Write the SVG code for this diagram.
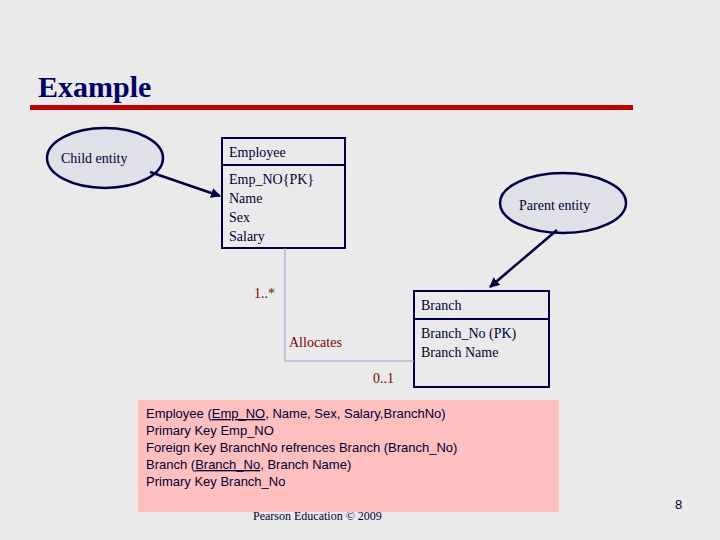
<svg xmlns="http://www.w3.org/2000/svg" width="720" height="540" viewBox="0 0 720 540">
<style>
.s{font-family:"Liberation Serif",serif;font-size:14px;fill:#000033}
.r{font-family:"Liberation Serif",serif;font-size:14px;fill:#800000}
.a{font-family:"Liberation Sans",sans-serif;font-size:13px;fill:#000033}
.box{fill:none;stroke:#000044;stroke-width:2}
.ell{fill:#e0e0e8;stroke:#000044;stroke-width:2.5}
</style>
<defs><marker id="ah" viewBox="0 0 10 10" refX="9" refY="5" markerWidth="4" markerHeight="4" orient="auto"><path d="M0,0L10,5L0,10z" fill="#000044"/></marker></defs>
<rect width="720" height="540" fill="#eaeaea"/>
<text x="38" y="97" font-family="Liberation Serif,serif" font-size="30" font-weight="bold" fill="#000066">Example</text>
<rect x="30" y="105" width="603" height="5" fill="#c00000"/>
<text x="253" y="520" font-family="Liberation Serif,serif" font-size="12" fill="#000033">Pearson Education © 2009</text>
<g id="child"><ellipse cx="105" cy="158" rx="58" ry="30" class="ell"/><text x="61" y="163" class="s">Child entity</text></g>
<g id="parent"><ellipse cx="563" cy="203" rx="63" ry="30" class="ell"/><text x="519" y="210" class="s">Parent entity</text></g>
<g id="employee"><rect x="222" y="138" width="123" height="110" class="box"/><line x1="222" y1="165" x2="345" y2="165" class="box"/>
<text x="229" y="157" class="s">Employee</text><text x="229" y="184" class="s">Emp_NO{PK}</text><text x="229" y="203" class="s">Name</text><text x="229" y="222" class="s">Sex</text><text x="229" y="241" class="s">Salary</text></g>
<g id="branch"><rect x="414" y="291" width="135" height="96" class="box"/><line x1="414" y1="319" x2="549" y2="319" class="box"/>
<text x="421" y="310" class="s">Branch</text><text x="421" y="338" class="s">Branch_No  (PK)</text><text x="421" y="357" class="s">Branch Name</text></g>
<g id="connectors">
<line x1="150" y1="172" x2="220" y2="196" stroke="#000044" stroke-width="2.5" marker-end="url(#ah)"/>
<line x1="557" y1="230" x2="490" y2="287" stroke="#000044" stroke-width="2.5" marker-end="url(#ah)"/>
<polyline points="285,248 285,361 414,361" fill="none" stroke="#9999cc" stroke-width="1"/>
<text x="254" y="298" class="r">1..*</text><text x="289" y="347" class="r">Allocates</text><text x="373" y="383" class="r">0..1</text>
</g>
<g id="note"><rect x="138" y="400" width="421" height="112" fill="#ffbfbf"/>
<text x="146" y="418" class="a">Employee (<tspan text-decoration="underline">Emp_NO</tspan>, Name, Sex, Salary,BranchNo)</text>
<text x="146" y="435" class="a">Primary Key  Emp_NO</text>
<text x="146" y="452" class="a">Foreign Key BranchNo refrences Branch (Branch_No)</text>
<text x="146" y="469" class="a">Branch (<tspan text-decoration="underline">Branch_No</tspan>, Branch Name)</text>
<text x="146" y="486" class="a">Primary Key  Branch_No</text></g>
<text x="675" y="509" font-family="Liberation Sans,sans-serif" font-size="13" fill="#000033">8</text>
</svg>
